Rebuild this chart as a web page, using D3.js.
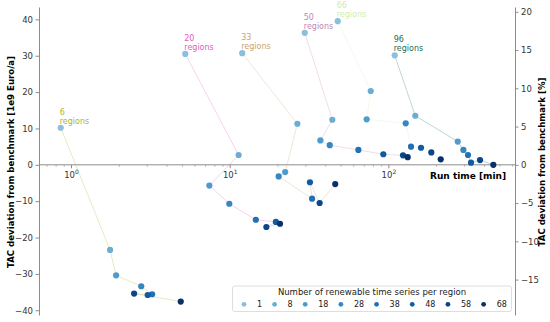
<!DOCTYPE html>
<html>
<head>
<meta charset="utf-8">
<script src="https://cdn.jsdelivr.net/npm/d3@7"></script>
<style>
  body { margin: 0; background: #fff; }
  svg { font-family: 'DejaVu Sans', sans-serif; }
</style>
</head>
<body>
<div id="chart"></div>
<script>
// data
const seriesCounts = [1, 8, 18, 28, 38, 48, 58, 68]
const regionGroups = [6, 20, 33, 50, 66, 96]
const groupColors = ['#aab52a', '#e05cc0', '#c9a36e', '#c186b6', '#cdeeb0', '#1b6e4f']

// run time [min], one value per series count
const runTime6 = [0.855, 1.75, 1.91, 2.75, 3.22, 3.02, 2.48, 4.88]
const runTime20 = [5.21, 11.3, 7.39, 9.87, 14.5, 19.4, 16.9, 20.6]
const runTime33 = [11.9, 26.5, 22.2, 20.2, 32.8, 31.8, 36.6, 45.9]
const runTime50 = [29.5, 44.0, 37.0, 42.4, 64.2, 92.2, 122.7, 131.3]
const runTime66 = [47.6, 76.8, 72.4, 127.6, 137.8, 159.3, 185, 212]
const runTime96 = [108.8, 146.6, 271.5, 294.6, 315, 329, 375, 455]

// TAC deviation [1e9 Euro/a]
const tac6 = [10.2, -23.4, -30.4, -33.4, -35.6, -35.8, -35.4, -37.6]
const tac20 = [30.5, 2.7, -5.7, -10.7, -15.1, -15.7, -17.1, -16.2]
const tac33 = [30.7, 11.3, -2.0, -3.2, -9.3, -4.8, -10.5, -5.3]
const tac50 = [36.3, 12.4, 6.7, 5.4, 4.1, 2.9, 2.6, 2.1]
const tac66 = [39.5, 20.3, 12.5, 11.4, 5.0, 4.7, 3.4, 1.5]
const tac96 = [30.1, 13.5, 6.4, 4.1, 2.7, 0.6, 1.3, 0.0]

const runTimes = [runTime6, runTime20, runTime33, runTime50, runTime66, runTime96]
const tacs = [tac6, tac20, tac33, tac50, tac66, tac96]

// benchmark TAC: 1 % of deviation in 1e9 Euro/a
const pctFactor = 2.104

const leftTicks = [-40, -30, -20, -10, 0, 10, 20, 30, 40]
const rightTicks = [-15, -10, -5, 0, 5, 10, 15, 20]
const xTicks = [1, 10, 100]

// size
const W = 550
const H = 322
const plotLeft = 39
const plotRight = 515
const plotTop = 7
const plotBottom = 315

// scale
const x = d3.scaleLog().domain([0.624, 623]).range([plotLeft, plotRight])
const y = d3.scaleLinear().domain([-41.3, 43.4]).range([plotBottom, plotTop])
const y2 = d3.scaleLinear()
  .domain([-41.3 / pctFactor, 43.4 / pctFactor])
  .range([plotBottom, plotTop])

const color = d3.scaleOrdinal()
  .domain(seriesCounts)
  .range(seriesCounts.map((_, i) => d3.interpolateBlues(0.42 + i * 0.58 / 7)))

const svg = d3.select('#chart').append('svg')
  .attr('width', W)
  .attr('height', H)

const spine = '#8c8c8c'
const tickColor = '#333'

// left axis
svg.append('g')
  .attr('transform', `translate(${plotLeft},0)`)
  .call(d3.axisLeft(y).tickValues(leftTicks).tickSize(3.5).tickPadding(2.5).tickSizeOuter(0))
  .call(g => g.select('.domain').attr('stroke', spine))
  .call(g => g.selectAll('.tick line').attr('stroke', spine))
  .call(g => g.selectAll('text').attr('font-size', '8.5px').attr('fill', tickColor).attr('font-family', 'DejaVu Sans'))

// right axis
svg.append('g')
  .attr('transform', `translate(${plotRight},0)`)
  .call(d3.axisRight(y2).tickValues(rightTicks).tickSize(3.5).tickPadding(2.5).tickSizeOuter(0))
  .call(g => g.select('.domain').attr('stroke', spine))
  .call(g => g.selectAll('.tick line').attr('stroke', spine))
  .call(g => g.selectAll('text').attr('font-size', '8.5px').attr('fill', tickColor).attr('font-family', 'DejaVu Sans'))

// x axis on the zero line
const minorTicks = []
for (let e = -1; e <= 2; e++) {
  for (let m = 2; m <= 9; m++) {
    const v = m * Math.pow(10, e)
    if (v > 0.624 && v < 623) minorTicks.push(v)
  }
}

const xAxis = svg.append('g').attr('transform', `translate(0,${y(0)})`)

xAxis.append('line')
  .attr('x1', plotLeft).attr('x2', plotRight)
  .attr('stroke', spine)

xAxis.selectAll('line.minor')
  .data(minorTicks)
  .join('line')
  .attr('class', 'minor')
  .attr('x1', d => x(d)).attr('x2', d => x(d))
  .attr('y1', 0).attr('y2', 2)
  .attr('stroke', spine)
  .attr('stroke-width', 0.6)

xAxis.selectAll('line.major')
  .data(xTicks)
  .join('line')
  .attr('class', 'major')
  .attr('x1', d => x(d)).attr('x2', d => x(d))
  .attr('y1', 0).attr('y2', 3.5)
  .attr('stroke', spine)

const xLabels = xAxis.selectAll('text.xt')
  .data(xTicks)
  .join('text')
  .attr('class', 'xt')
  .attr('x', d => x(d))
  .attr('y', 13)
  .attr('text-anchor', 'middle')
  .attr('font-size', '8.5px')
  .attr('fill', tickColor)

xLabels.append('tspan').text('10')
xLabels.append('tspan')
  .attr('dy', -3.5)
  .attr('font-size', '6px')
  .text(d => Math.round(Math.log10(d)))

// axis titles
svg.append('text')
  .attr('text-anchor', 'end')
  .attr('x', 506)
  .attr('y', 178.5)
  .attr('font-size', '9px')
  .attr('font-weight', 'bold')
  .text('Run time [min]')

svg.append('text')
  .attr('text-anchor', 'middle')
  .attr('transform', `translate(14, 162) rotate(-90)`)
  .attr('font-size', '8.6px')
  .attr('font-weight', 'bold')
  .text('TAC deviation from benchmark [1e9 Euro/a]')

svg.append('text')
  .attr('text-anchor', 'middle')
  .attr('transform', `translate(544.5, 162) rotate(-90)`)
  .attr('font-size', '8.6px')
  .attr('font-weight', 'bold')
  .text('TAC deviation from benchmark [%]')

// lines per region group
const line = d3.line().x(d => x(d[0])).y(d => y(d[1]))

regionGroups.forEach((r, gi) => {
  const pts = runTimes[gi].map((t, i) => [t, tacs[gi][i]])
  svg.append('path')
    .attr('d', line(pts))
    .attr('fill', 'none')
    .attr('stroke', groupColors[gi])
    .attr('stroke-opacity', 0.28)
    .attr('stroke-width', 1)
})

// points
regionGroups.forEach((r, gi) => {
  svg.append('g')
    .selectAll('circle')
    .data(seriesCounts)
    .join('circle')
    .attr('cx', (d, i) => x(runTimes[gi][i]))
    .attr('cy', (d, i) => y(tacs[gi][i]))
    .attr('r', 3.1)
    .attr('fill', d => color(d))
})

// group labels
regionGroups.forEach((r, gi) => {
  const px = x(runTimes[gi][0]) - 1
  const py = y(tacs[gi][0])
  const t = svg.append('text')
    .attr('font-size', '8px')
    .attr('fill', groupColors[gi])
  t.append('tspan').attr('x', px).attr('y', py - 13).text(r)
  t.append('tspan').attr('x', px).attr('y', py - 4).text('regions')
})

// legend
const legend = svg.append('g')

legend.append('rect')
  .attr('x', 232.5).attr('y', 286)
  .attr('width', 279).attr('height', 25.5)
  .attr('rx', 2)
  .attr('fill', 'white')
  .attr('fill-opacity', 0.85)
  .attr('stroke', '#d6d6d6')
  .attr('stroke-width', 0.8)

legend.append('text')
  .attr('x', 372)
  .attr('y', 294.5)
  .attr('text-anchor', 'middle')
  .attr('font-size', '8.5px')
  .attr('fill', '#222')
  .text('Number of renewable time series per region')

let lx = 244
seriesCounts.forEach(c => {
  legend.append('circle')
    .attr('cx', lx).attr('cy', 304.3)
    .attr('r', 2.4)
    .attr('fill', color(c))
  const label = legend.append('text')
    .attr('x', lx + 13)
    .attr('y', 307.3)
    .attr('font-size', '8px')
    .attr('fill', '#222')
    .text(c)
  lx = lx + 13 + label.node().getComputedTextLength() + 12.5
})
</script>
</body>
</html>
